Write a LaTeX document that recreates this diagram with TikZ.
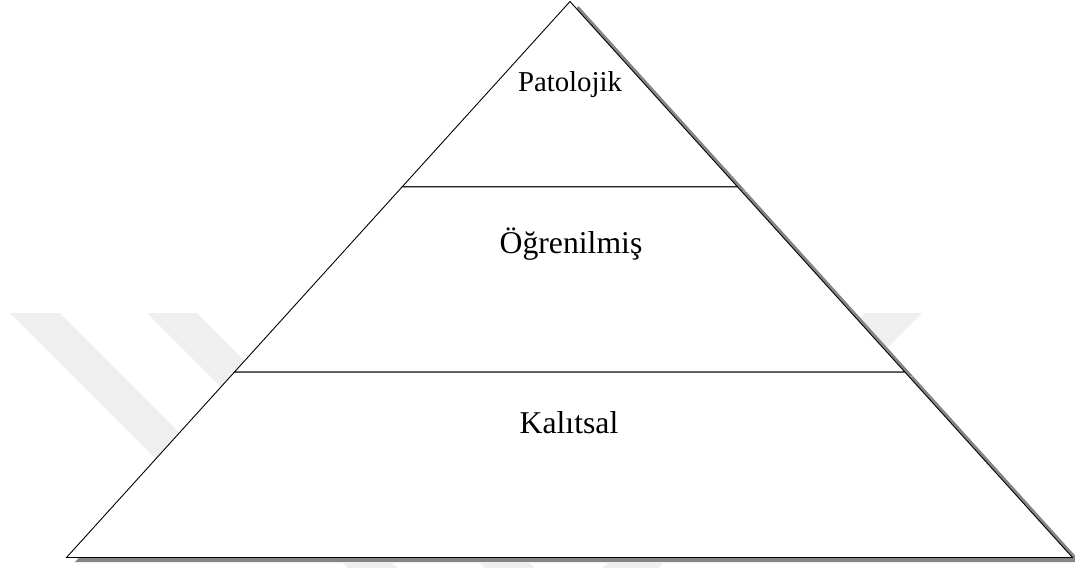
\documentclass[tikz,border=0pt]{standalone}
\usepackage{fontspec}
\setmainfont{Liberation Serif}
\usetikzlibrary{calc}
\definecolor{wmgray}{HTML}{EFEFEF}
\definecolor{shadowgray}{HTML}{858585}
\tikzset{
  layer/.style={fill=white, draw=black, line width=0.9pt, line join=miter},
  layershadow/.style={fill=shadowgray},
  dropshadow/.style={transform canvas={shift={(8.5pt,-4.5pt)}}},
  stripe/.style={fill=wmgray, draw=none},
  smalllabel/.style={anchor=base, inner sep=0pt, font=\fontsize{28.8}{32}\selectfont},
  biglabel/.style={anchor=base, inner sep=0pt, font=\fontsize{31.7}{35}\selectfont},
}
\begin{document}
\begin{tikzpicture}[x=1pt, y=-1pt]
\useasboundingbox (0,0) rectangle (1075,568);

% faint background stripes
\fill[stripe] (10,313) -- (60,313) -- (230,483) -- (180,483) -- cycle;
\fill[stripe] (147,313) -- (197,313) -- (330,446) -- (280,446) -- cycle;
\fill[stripe] (865,313) -- (922,313) -- (822,413) -- (765,413) -- cycle;
\fill[stripe] (343,563) -- (393,563) -- (398,568) -- (348,568) -- cycle;
\fill[stripe] (480,563) -- (530,563) -- (535,568) -- (485,568) -- cycle;
\fill[stripe] (607,563) -- (663,563) -- (658,568) -- (602,568) -- cycle;

% pyramid corners and level points
\coordinate (apex) at (570,1.5);
\coordinate (bl) at (66.5,557.5);
\coordinate (br) at (1072.5,557.5);
\coordinate (l1) at ($(apex)!0.3333!(bl)$);
\coordinate (r1) at ($(apex)!0.3333!(br)$);
\coordinate (l2) at ($(apex)!0.6667!(bl)$);
\coordinate (r2) at ($(apex)!0.6667!(br)$);

% each level: offset shadow first, then the white face
\begin{scope}[dropshadow]
  \fill[layershadow] (apex) -- (r1) -- (l1) -- cycle;
\end{scope}
\filldraw[layer] (apex) -- (r1) -- (l1) -- cycle;

\begin{scope}[dropshadow]
  \fill[layershadow] (l1) -- (r1) -- (r2) -- (l2) -- cycle;
\end{scope}
\filldraw[layer] (l1) -- (r1) -- (r2) -- (l2) -- cycle;

\begin{scope}[dropshadow]
  \fill[layershadow] (l2) -- (r2) -- (br) -- (bl) -- cycle;
\end{scope}
\filldraw[layer] (l2) -- (r2) -- (br) -- (bl) -- cycle;

% labels
\node[smalllabel] (pat) at (570,91.7) {Patolojik};
\node[biglabel] (ogr) at (571,253) {Öğrenilmiş};
\node[biglabel] (kal) at (569,433.5) {Kalıtsal};
\end{tikzpicture}
\end{document}
